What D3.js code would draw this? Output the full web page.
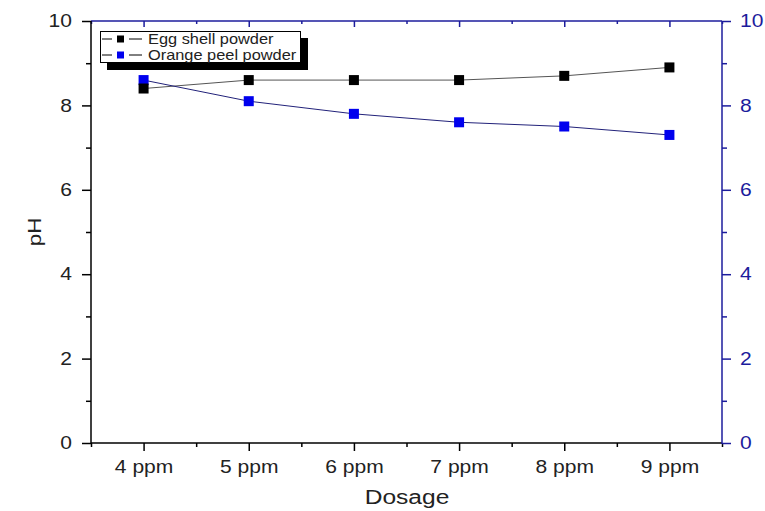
<!DOCTYPE html>
<html><head><meta charset="utf-8">
<script src="https://cdn.jsdelivr.net/npm/d3@7"></script>
<style>body{margin:0;background:#fff}svg{display:block}text{font-family:Arial,"Liberation Sans",sans-serif}</style>
</head><body><svg id="c" width="765" height="511"></svg>
<script>
const categories = ["4 ppm","5 ppm","6 ppm","7 ppm","8 ppm","9 ppm"];
const eggShell = [8.4, 8.6, 8.6, 8.6, 8.7, 8.9];
const orangePeel = [8.6, 8.1, 7.8, 7.6, 7.5, 7.3];
const yTicks = [0,2,4,6,8,10];
const seriesNames = ["Egg shell powder","Orange peel powder"];

const svg = d3.select("#c");
const L=91, R=722, T=21, B=443;
const SX = 1.17;
const blue = "#1c1c9c";
const FONT = "Arial, 'Liberation Sans', sans-serif";
const x = d3.scaleLinear().domain([-0.5, categories.length-0.5]).range([L,R]);
const y = d3.scaleLinear().domain([0,10]).range([B,T]);

function stretch(sel){
  sel.each(function(){
    const t = d3.select(this);
    const tx = +t.attr("x") || 0;
    t.attr("x",0).attr("transform",`translate(${tx},0) scale(${SX},1)`);
  });
}

// bottom axis
const gx = svg.append("g").attr("transform",`translate(0,${B})`)
  .call(d3.axisBottom(x).tickValues(d3.range(categories.length)).tickFormat(i=>categories[i]).tickSize(8).tickPadding(9));
gx.append("g").call(d3.axisBottom(x).tickValues(d3.range(categories.length+1).map(i=>i-0.5)).tickFormat("").tickSize(4));
gx.selectAll(".domain").remove();
gx.selectAll("line").attr("stroke","#000").attr("stroke-width",1.5);
gx.selectAll("text").attr("font-size",18).attr("fill","#222").attr("font-family",FONT).call(stretch);
svg.append("line").attr("x1",L).attr("x2",R).attr("y1",B).attr("y2",B).attr("stroke","#000").attr("stroke-width",1.5);

// top axis
const gt = svg.append("g").attr("transform",`translate(0,${T})`);
gt.call(d3.axisBottom(x).tickValues(d3.range(categories.length)).tickFormat("").tickSize(6));
gt.append("g").call(d3.axisBottom(x).tickValues(d3.range(categories.length+1).map(i=>i-0.5)).tickFormat("").tickSize(3));
gt.selectAll(".domain").remove();
gt.selectAll("line").attr("stroke",blue).attr("stroke-width",1.5);
svg.append("line").attr("x1",L).attr("x2",R).attr("y1",T).attr("y2",T).attr("stroke",blue).attr("stroke-width",1.5);

// left axis
const gl = svg.append("g").attr("transform",`translate(${L},0)`)
  .call(d3.axisLeft(y).tickValues(yTicks).tickSize(9).tickPadding(10));
gl.append("g").call(d3.axisLeft(y).tickValues([1,3,5,7,9]).tickFormat("").tickSize(5));
gl.selectAll(".domain").remove();
gl.selectAll("line").attr("stroke","#000").attr("stroke-width",1.5);
gl.selectAll("text").attr("font-size",18).attr("fill","#222").attr("font-family",FONT).call(stretch);
svg.append("line").attr("x1",L).attr("x2",L).attr("y1",T).attr("y2",B+1).attr("stroke","#000").attr("stroke-width",1.5);

// right axis
const gr = svg.append("g").attr("transform",`translate(${R},0)`)
  .call(d3.axisRight(y).tickValues(yTicks).tickSize(9).tickPadding(9));
gr.append("g").call(d3.axisRight(y).tickValues([1,3,5,7,9]).tickFormat("").tickSize(5));
gr.selectAll(".domain").remove();
gr.selectAll("line").attr("stroke",blue).attr("stroke-width",1.5);
gr.selectAll("text").attr("font-size",18).attr("fill",blue).attr("font-family",FONT).call(stretch);
svg.append("line").attr("x1",R).attr("x2",R).attr("y1",T).attr("y2",B+1).attr("stroke",blue).attr("stroke-width",1.5);

// titles
svg.append("text").attr("transform",`translate(407,504) scale(${SX},1)`).attr("text-anchor","middle").attr("font-size",21).attr("fill","#222").text("Dosage");
svg.append("text").attr("transform",`translate(41,232) rotate(-90) scale(${SX},1)`).attr("text-anchor","middle").attr("font-size",19).attr("fill","#222").text("pH");

// series
const line = d3.line().x((d,i)=>x(i)).y(d=>y(d));
const series = [
  {name:seriesNames[0], values:eggShell, line:"#555", fill:"#000"},
  {name:seriesNames[1], values:orangePeel, line:"#22227a", fill:"#0000ee"}
];
series.forEach(s=>{
  svg.append("path").attr("d",line(s.values)).attr("fill","none").attr("stroke",s.line).attr("stroke-width",1);
});
series.slice().reverse().forEach(s=>{
  svg.append("g").selectAll("rect").data(s.values).join("rect")
    .attr("x",(d,i)=>x(i)-5).attr("y",d=>y(d)-5).attr("width",10).attr("height",10).attr("fill",s.fill);
});

// legend
const lg = svg.append("g");
lg.append("rect").attr("x",107).attr("y",38).attr("width",201).attr("height",32).attr("fill","#000");
lg.append("rect").attr("x",100.5).attr("y",31.5).attr("width",200).attr("height",31).attr("fill","#fff").attr("stroke","#000").attr("stroke-width",1);
series.forEach((s,i)=>{
  const yy = 39 + i*16;
  lg.append("line").attr("x1",102).attr("x2",112).attr("y1",yy).attr("y2",yy).attr("stroke","#000").attr("stroke-width",1);
  lg.append("line").attr("x1",129).attr("x2",142).attr("y1",yy).attr("y2",yy).attr("stroke","#000").attr("stroke-width",1);
  lg.append("rect").attr("x",117).attr("y",yy-3.5).attr("width",7).attr("height",7).attr("fill",s.fill);
  lg.append("text").attr("transform",`translate(148,${yy+5}) scale(${SX},1)`).attr("font-size",14).attr("fill","#222").text(s.name);
});
</script></body></html>
